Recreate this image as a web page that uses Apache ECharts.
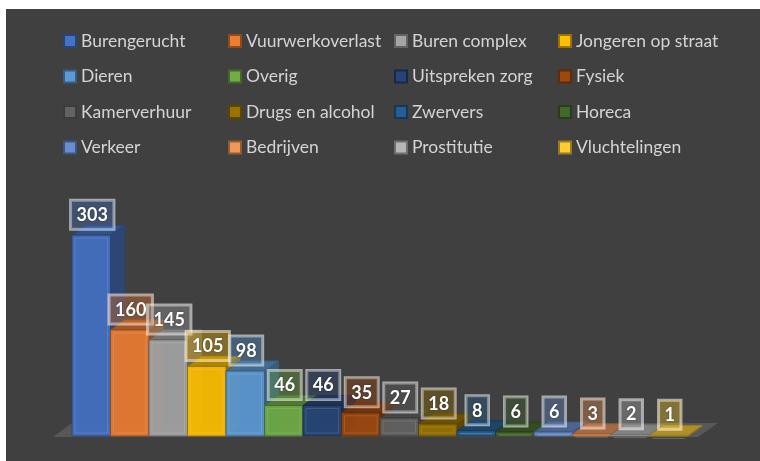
<!DOCTYPE html>
<html>
<head>
<meta charset="utf-8">
<script src="https://cdn.jsdelivr.net/npm/echarts@6/dist/echarts.min.js"></script>
<style>
  html, body { margin: 0; background: #fff; }
  #bg { position: absolute; left: 6px; top: 9px; width: 754px; height: 452px; background: #404040; }
  #chart { position: absolute; left: 0; top: 0; width: 760px; height: 461px; }
</style>
</head>
<body>
<div id="bg"></div>
<div id="chart"></div>
<script>
var categories = ['Burengerucht', 'Vuurwerkoverlast', 'Buren complex', 'Jongeren op straat',
    'Dieren', 'Overig', 'Uitspreken zorg', 'Fysiek',
    'Kamerverhuur', 'Drugs en alcohol', 'Zwervers', 'Horeca',
    'Verkeer', 'Bedrijven', 'Prostitutie', 'Vluchtelingen'];
var values = [303, 160, 145, 105, 98, 46, 46, 35, 27, 18, 8, 6, 6, 3, 2, 1];
var colors = ['#4472C4', '#ED7D31', '#A5A5A5', '#FFC000',
    '#5B9BD5', '#70AD47', '#264478', '#9E480E',
    '#636363', '#997300', '#255E91', '#43682B',
    '#698ED0', '#F1975A', '#B7B7B7', '#FFCD33'];

// depth of the fake 3d boxes
var DX = 14, DY = -10;

function shade(hex, f, a) {
    var r = parseInt(hex.substr(1, 2), 16), g = parseInt(hex.substr(3, 2), 16), b = parseInt(hex.substr(5, 2), 16);
    r = Math.round(r * f); g = Math.round(g * f); b = Math.round(b * f);
    return 'rgba(' + r + ',' + g + ',' + b + ',' + (a == null ? 1 : a) + ')';
}

function renderBar(params, api) {
    var i = api.value(0), v = api.value(1);
    var base = api.coord([i, 0]);
    var top = api.coord([i, v]);
    var w = api.size([1, 0])[0];
    var x0 = base[0] - w / 2, x1 = base[0] + w / 2;
    var yt = top[1], yb = base[1];
    var c = colors[i];
    var edge = shade(c, 0.6, 0.9);
    return {
        type: 'group',
        children: [
            { type: 'polygon', shape: { points: [[x1, yt], [x1 + DX, yt + DY], [x1 + DX, yb + DY], [x1, yb]] },
              style: { fill: shade(c, 0.62, 0.92), stroke: edge, lineWidth: 1 } },
            { type: 'polygon', shape: { points: [[x0, yt], [x0 + DX, yt + DY], [x1 + DX, yt + DY], [x1, yt]] },
              style: { fill: shade(c, 0.72, 0.92), stroke: edge, lineWidth: 1 } },
            { type: 'rect', shape: { x: x0, y: yt, width: w, height: yb - yt },
              style: { fill: shade(c, 0.97, 0.95), stroke: edge, lineWidth: 1 } },
            { type: 'rect', shape: { x: x0 + 3, y: yt + 3, width: w - 6, height: Math.max(0, yb - yt - 6) },
              style: { fill: 'none', stroke: 'rgba(255,255,255,0.12)', lineWidth: 1 } }
        ]
    };
}

function renderLabel(params, api) {
    var i = api.value(0), v = api.value(1);
    var top = api.coord([i, v]);
    return {
        type: 'text',
        x: top[0] + 1,
        y: top[1] - 6,
        style: {
            text: String(v),
            fill: '#ffffff',
            font: 'bold 18px Lato',
            align: 'center',
            verticalAlign: 'bottom',
            backgroundColor: shade(colors[i], 1, 0.35),
            borderColor: 'rgba(255,255,255,0.55)',
            borderWidth: 1.5,
            padding: [6, 6, 5, 6],
            textShadowColor: 'rgba(0,0,0,0.4)',
            textShadowBlur: 2
        }
    };
}

function renderFloor(params, api) {
    var cs = params.coordSys;
    var yb = cs.y + cs.height + 1;
    return {
        type: 'polygon',
        shape: { points: [[cs.x - 19, yb], [cs.x, yb - 14], [cs.x + cs.width + 30, yb - 14], [cs.x + cs.width + 10, yb]] },
        style: { fill: 'rgba(255,255,255,0.13)' }
    };
}

var series = [{ type: 'custom', name: 'floor', z: 1, silent: true, data: [[0, 0]], renderItem: renderFloor }];
categories.forEach(function (name, i) {
    series.push({
        type: 'custom',
        name: name,
        z: 2,
        itemStyle: { color: colors[i], borderColor: shade(colors[i], 0.6), borderWidth: 1 },
        data: [[i, values[i]]],
        renderItem: renderBar
    });
});
series.push({
    type: 'custom', name: 'labels', z: 5, silent: true,
    data: values.map(function (v, i) { return [i, v]; }),
    renderItem: renderLabel
});

var legendLeft = [63, 228, 394, 558];
var legends = legendLeft.map(function (left, col) {
    return {
        orient: 'vertical',
        left: left,
        top: 32,
        padding: 0,
        itemWidth: 12,
        itemHeight: 12,
        itemGap: 17.5,
        icon: 'rect',
        selectedMode: false,
        data: categories.filter(function (n, k) { return k % 4 === col; }),
        textStyle: { color: '#d4d4d4', fontSize: 17.5, fontFamily: 'Lato', lineHeight: 18 }
    };
});

var myChart = echarts.init(document.getElementById('chart'));
myChart.setOption({
    animation: false,
    legend: legends,
    grid: { left: 72, right: 72, top: 204, bottom: 25 },
    xAxis: { type: 'category', data: categories, show: false },
    yAxis: { type: 'value', min: 0, max: 350, show: false },
    series: series
});
</script>
</body>
</html>
